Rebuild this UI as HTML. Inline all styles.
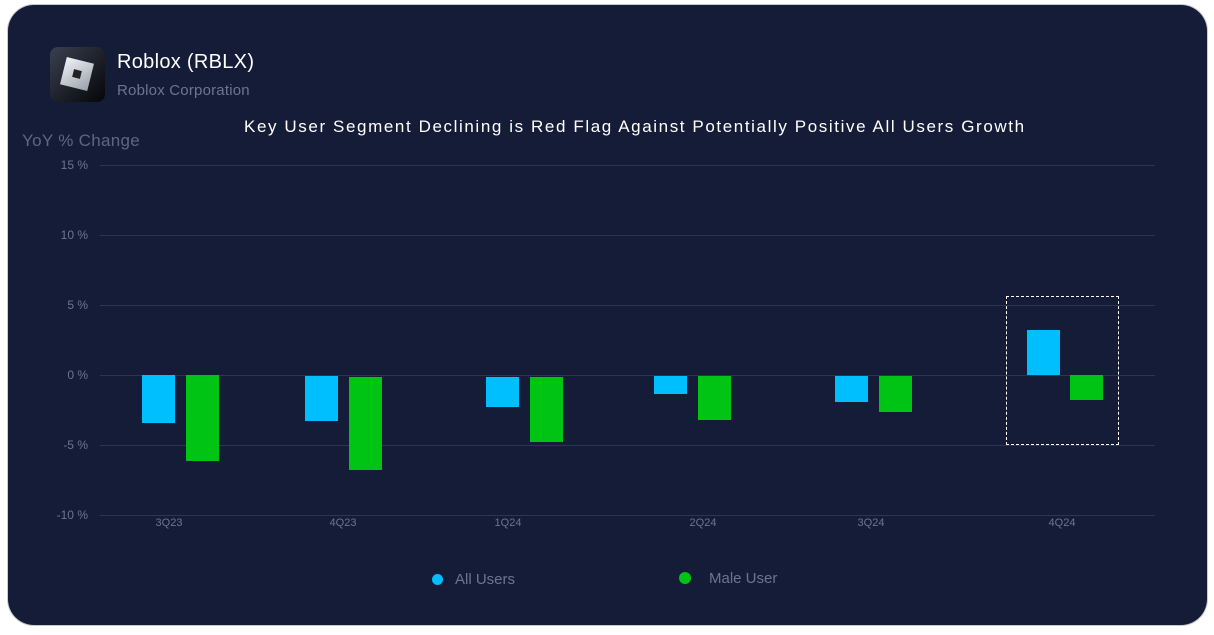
<!DOCTYPE html>
<html><head><meta charset="utf-8"><style>
body{margin:0;width:1214px;height:635px;background:#fff;position:relative;overflow:hidden;font-family:"Liberation Sans",sans-serif}
.card{position:absolute;left:8px;top:5px;width:1199px;height:620px;background:#151c37;border-radius:26px;box-shadow:0 0 0 1px #c8cad0}
.t{position:absolute;white-space:nowrap}
.g{position:absolute;left:100px;width:1055px;height:1px;background:#2c3553}
.yl{position:absolute;width:88px;text-align:right;left:0;font-size:12px;color:#6b7590}
.xl{position:absolute;font-size:11px;color:#6b7590;transform:translateX(-50%);top:517px}
.b{position:absolute;width:33px}
.bl{background:#00bfff}.gr{background:#00c414}
</style></head><body>
<div class="card"></div>
<div style="position:absolute;left:50px;top:47px;width:55px;height:55px;border-radius:8px;background:linear-gradient(135deg,#3a4050,#050608);"></div>
<div style="position:absolute;left:63px;top:60px;width:28px;height:28px;background:linear-gradient(135deg,#f0f2f5,#9aa0aa);transform:rotate(14deg)"></div>
<div style="position:absolute;left:73px;top:70px;width:8px;height:8px;background:#222;transform:rotate(14deg)"></div>
<div class="t" style="left:117px;top:51px;font-size:20px;color:#fff;letter-spacing:0.3px">Roblox (RBLX)</div>
<div class="t" style="left:117px;top:82px;font-size:15px;color:#6b7590;letter-spacing:0.2px">Roblox Corporation</div>
<div class="t" style="left:244px;top:117px;font-size:17px;color:#fff;letter-spacing:1.6px">Key User Segment Declining is Red Flag Against Potentially Positive All Users Growth</div>
<div class="t" style="left:22px;top:131px;font-size:17px;color:#5d6682;letter-spacing:0.3px">YoY % Change</div>
<div class="g" style="top:165px"></div><div class="g" style="top:235px"></div><div class="g" style="top:305px"></div><div class="g" style="top:375px"></div><div class="g" style="top:445px"></div><div class="g" style="top:515px"></div>
<div class="yl" style="top:158px">15 %</div><div class="yl" style="top:228px">10 %</div><div class="yl" style="top:298px">5 %</div><div class="yl" style="top:368px">0 %</div><div class="yl" style="top:438px">-5 %</div><div class="yl" style="top:508px">-10 %</div>
<div class="b bl" style="left:142px;top:375px;height:48px"></div><div class="b gr" style="left:186px;top:375px;height:86px"></div>
<div class="b bl" style="left:305px;top:376px;height:45px"></div><div class="b gr" style="left:349px;top:377px;height:93px"></div>
<div class="b bl" style="left:486px;top:377px;height:30px"></div><div class="b gr" style="left:530px;top:377px;height:65px"></div>
<div class="b bl" style="left:654px;top:376px;height:18px"></div><div class="b gr" style="left:698px;top:376px;height:44px"></div>
<div class="b bl" style="left:835px;top:376px;height:26px"></div><div class="b gr" style="left:879px;top:376px;height:36px"></div>
<div class="b bl" style="left:1027px;top:330px;height:45px"></div><div class="b gr" style="left:1070px;top:375px;height:25px"></div>
<div style="position:absolute;left:1006px;top:296px;width:111px;height:147px;border:1.5px dashed #fff"></div>
<div class="xl" style="left:169px">3Q23</div><div class="xl" style="left:343px">4Q23</div><div class="xl" style="left:508px">1Q24</div><div class="xl" style="left:703px">2Q24</div><div class="xl" style="left:871px">3Q24</div><div class="xl" style="left:1062px">4Q24</div>
<div style="position:absolute;left:432px;top:574px;width:11px;height:11px;border-radius:50%;background:#00bfff"></div>
<div class="t" style="left:455px;top:571px;font-size:15px;color:#6b7590">All Users</div>
<div style="position:absolute;left:679px;top:572px;width:12px;height:12px;border-radius:50%;background:#00c414"></div>
<div class="t" style="left:709px;top:570px;font-size:15px;color:#6b7590">Male User</div>
</body></html>
